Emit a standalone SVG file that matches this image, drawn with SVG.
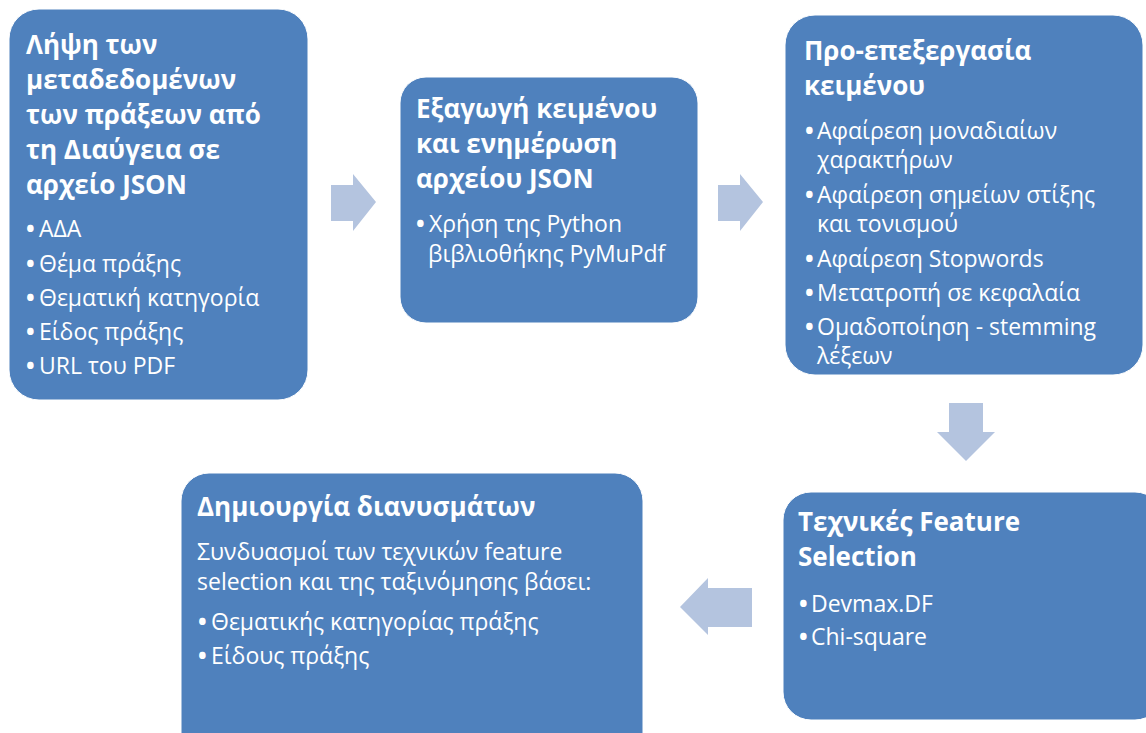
<svg xmlns="http://www.w3.org/2000/svg" width="1146" height="733" viewBox="0 0 1146 733">
  <style>
    .box { fill: #4F81BD; stroke: #FFFFFF; stroke-width: 1; }
    .arrow { fill: #B4C4DF; stroke: none; }
    text { fill: #FFFFFF; font-family: "Open Sans", "Noto Sans", "DejaVu Sans", sans-serif; }
    .title { font-size: 26px; font-weight: bold; }
    .body { font-size: 23px; }
    .dot { font-weight: bold; }
  </style>
  <rect width="1146" height="733" fill="#FFFFFF"/>

  <!-- block arrows between the steps -->
  <g id="connectors">
    <polygon class="arrow" points="331,185 353,185 353,174 376,202 353,231 353,221 331,221"/>
    <polygon class="arrow" points="718,185 740,185 740,174 763,202 740,231 740,221 718,221"/>
    <polygon class="arrow" points="949,403 983,403 983,432 995,432 966,461 937,432 949,432"/>
    <polygon class="arrow" points="752,588 708,588 708,578 680,607 708,635 708,627 752,627"/>
  </g>

  <!-- step 1: metadata download -->
  <g id="step-fetch">
    <rect class="box" x="9" y="9" width="299" height="391" rx="30"/>
    <text class="title" x="26" y="54">Λήψη των</text>
    <text class="title" x="26" y="89">μεταδεδομένων</text>
    <text class="title" x="26" y="124">των πράξεων από</text>
    <text class="title" x="26" y="159">τη Διαύγεια σε</text>
    <text class="title" x="26" y="194">αρχείο JSON</text>
    <text class="body" y="237"><tspan class="dot" x="26">•</tspan><tspan x="39">ΑΔΑ</tspan></text>
    <text class="body" y="272"><tspan class="dot" x="26">•</tspan><tspan x="39">Θέμα πράξης</tspan></text>
    <text class="body" y="306"><tspan class="dot" x="26">•</tspan><tspan x="39">Θεματική κατηγορία</tspan></text>
    <text class="body" y="340"><tspan class="dot" x="26">•</tspan><tspan x="39">Είδος πράξης</tspan></text>
    <text class="body" y="374"><tspan class="dot" x="26">•</tspan><tspan x="39">URL του PDF</tspan></text>
  </g>

  <!-- step 2: text extraction -->
  <g id="step-extract">
    <rect class="box" x="400" y="77" width="298" height="246" rx="26"/>
    <text class="title" x="416" y="118">Εξαγωγή κειμένου</text>
    <text class="title" x="416" y="153">και ενημέρωση</text>
    <text class="title" x="416" y="188">αρχείου JSON</text>
    <text class="body" y="232"><tspan class="dot" x="416">•</tspan><tspan x="429">Χρήση της Python</tspan></text>
    <text class="body" x="428" y="262">βιβλιοθήκης PyMuPdf</text>
  </g>

  <!-- step 3: preprocessing -->
  <g id="step-preprocess">
    <rect class="box" x="785" y="15" width="358" height="360" rx="30"/>
    <text class="title" x="804" y="60">Προ-επεξεργασία</text>
    <text class="title" x="804" y="95">κειμένου</text>
    <text class="body" y="139"><tspan class="dot" x="805">•</tspan><tspan x="817">Αφαίρεση μοναδιαίων</tspan></text>
    <text class="body" x="817" y="168">χαρακτήρων</text>
    <text class="body" y="203"><tspan class="dot" x="805">•</tspan><tspan x="817">Αφαίρεση σημείων στίξης</tspan></text>
    <text class="body" x="817" y="232">και τονισμού</text>
    <text class="body" y="267"><tspan class="dot" x="805">•</tspan><tspan x="817">Αφαίρεση Stopwords</tspan></text>
    <text class="body" y="301"><tspan class="dot" x="805">•</tspan><tspan x="817">Μετατροπή σε κεφαλαία</tspan></text>
    <text class="body" y="335"><tspan class="dot" x="805">•</tspan><tspan x="817">Ομαδοποίηση - stemming</tspan></text>
    <text class="body" x="817" y="364">λέξεων</text>
  </g>

  <!-- step 4: feature selection -->
  <g id="step-features">
    <rect class="box" x="783" y="492" width="380" height="228" rx="28"/>
    <text class="title" x="798" y="531">Τεχνικές Feature</text>
    <text class="title" x="798" y="566">Selection</text>
    <text class="body" y="612"><tspan class="dot" x="799">•</tspan><tspan x="811">Devmax.DF</tspan></text>
    <text class="body" y="645"><tspan class="dot" x="799">•</tspan><tspan x="811">Chi-square</tspan></text>
  </g>

  <!-- step 5: vector creation -->
  <g id="step-vectors">
    <rect class="box" x="181" y="473" width="462" height="300" rx="28"/>
    <text class="title" x="197" y="516">Δημιουργία διανυσμάτων</text>
    <text class="body" x="197" y="560">Συνδυασμοί των τεχνικών feature</text>
    <text class="body" x="197" y="590">selection και της ταξινόμησης βάσει:</text>
    <text class="body" y="630"><tspan class="dot" x="198">•</tspan><tspan x="211">Θεματικής κατηγορίας πράξης</tspan></text>
    <text class="body" y="664"><tspan class="dot" x="198">•</tspan><tspan x="211">Είδους πράξης</tspan></text>
  </g>
</svg>
